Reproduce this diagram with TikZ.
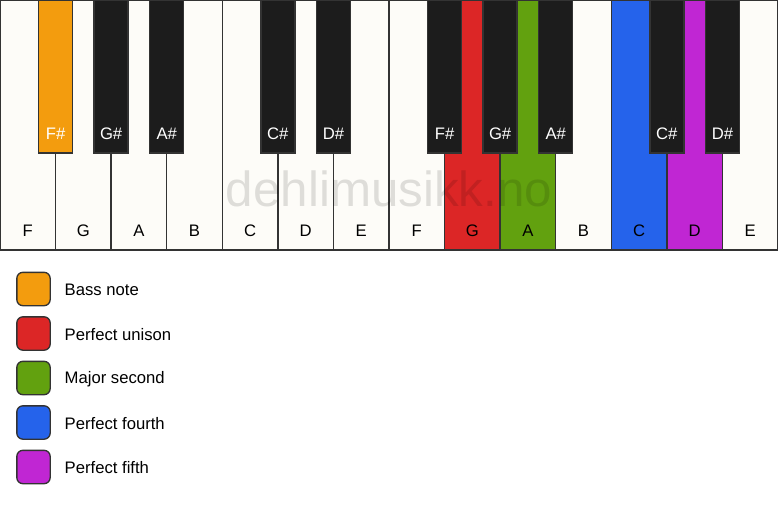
\documentclass[tikz,border=0pt]{standalone}
\usepackage{fontspec}
\setmainfont{Liberation Sans}
\usepackage{tikz}
\usetikzlibrary{positioning}
\definecolor{keywhite}{HTML}{FDFCF8}
\definecolor{keyblack}{HTML}{1C1C1C}
\definecolor{keyedge}{HTML}{333333}
\definecolor{bassnote}{HTML}{F39C0E}
\definecolor{unison}{HTML}{DC2626}
\definecolor{second}{HTML}{62A10F}
\definecolor{fourth}{HTML}{2563EB}
\definecolor{fifth}{HTML}{C026D3}
\tikzset{
	whitekey/.style={draw=keyedge, line width=1pt, anchor=north west, inner sep=0pt, outer sep=0pt,
		minimum width=41.68pt, minimum height=186.9pt},
	blackkey/.style={draw=keyedge, line width=1pt, anchor=north, inner sep=0pt, outer sep=0pt,
		minimum width=25.5pt, minimum height=114.2pt},
	whitetext/.style={text=black, font=\fontsize{12.5}{14}\selectfont, inner sep=0pt},
	blacktext/.style={text=white, font=\fontsize{12.5}{14}\selectfont, inner sep=0pt},
	legendbox/.style={draw=keyedge, line width=1pt, rounded corners=4.5pt, minimum size=25pt, inner sep=0pt},
	legendtext/.style={font=\fontsize{12.5}{14}\selectfont, inner sep=0pt, anchor=west},
	watermark/.style={text=black, text opacity=0.12, font=\fontsize{37}{42}\selectfont, inner sep=0pt, anchor=base},
}

\begin{document}
\begin{tikzpicture}[x=0.75pt, y=-0.75pt]
	\useasboundingbox (0,0) rectangle (778,506);
	% white keys
	\foreach \n/\c [count=\i from 0] in {F/keywhite, G/keywhite, A/keywhite, B/keywhite, C/keywhite, D/keywhite, E/keywhite,
		F/keywhite, G/unison, A/second, B/keywhite, C/fourth, D/fifth, E/keywhite}{
		\node[whitekey, fill=\c] (w\i) at (\i*55.571, 0.75) {};
		\node[whitetext] (lw\i) at ([yshift=14.3pt]w\i.south) {\n};
	}
	% watermark
	\node[watermark] (wm) at (389, 206.5) {dehlimusikk.no};
	% black keys
	\foreach \b/\n/\c in {1/F\#/bassnote, 2/G\#/keyblack, 3/A\#/keyblack, 5/C\#/keyblack, 6/D\#/keyblack,
		8/F\#/keyblack, 9/G\#/keyblack, 10/A\#/keyblack, 12/C\#/keyblack, 13/D\#/keyblack}{
		\node[blackkey, fill=\c] (b\b) at (\b*55.571, 0.75) {};
		\node[blacktext] (lb\b) at ([yshift=14.3pt]b\b.south) {\n};
	}
	% legend
	\foreach \c/\t [count=\k from 0] in {bassnote/Bass note, unison/Perfect unison, second/Major second,
		fourth/Perfect fourth, fifth/Perfect fifth}{
		\node[legendbox, fill=\c] (box\k) at (33.5, 289+\k*44.5) {};
		\node[legendtext, right=10.2pt of box\k.east, yshift=-0.7pt] (txt\k) {\t};
	}
\end{tikzpicture}
\end{document}
